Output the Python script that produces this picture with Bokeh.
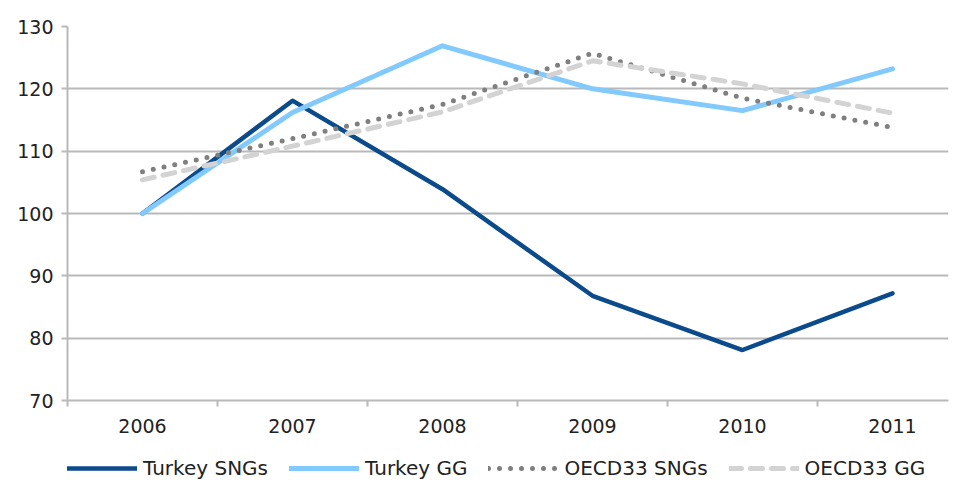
from bokeh.plotting import figure
from bokeh.models import FixedTicker, Legend, LegendItem, Range1d
from bokeh.layouts import column
from bokeh.embed import file_html
from bokeh.resources import INLINE

years = ["2006", "2007", "2008", "2009", "2010", "2011"]
turkey_sngs = [100, 118.1, 103.9, 86.8, 78.1, 87.2]
turkey_gg = [100, 116.2, 126.9, 120.0, 116.5, 123.2]
oecd_sngs = [106.7, 112.0, 117.5, 125.7, 118.5, 113.8]
oecd_gg = [105.4, 110.8, 116.3, 124.5, 120.8, 116.1]
y_ticks = [70, 80, 90, 100, 110, 120, 130]
names = ["Turkey SNGs", "Turkey GG", "OECD33 SNGs", "OECD33 GG"]

xs = list(range(len(years)))
all_series = [turkey_sngs, turkey_gg, oecd_sngs, oecd_gg]
FONT = "DejaVu Sans"
GRID = "#b9b9b9"
TXT = "#222222"

styles = [
    dict(line_color="#0b4a8b", line_width=4.5, line_join="round", line_cap="round"),
    dict(line_color="#82c9fd", line_width=5, line_join="round", line_cap="round"),
    dict(line_color="#7f7f7f", line_width=5, line_dash="0 11", line_cap="round"),
    dict(line_color="#d3d3d3", line_width=5, line_dash="12 9", line_cap="round"),
]

p = figure(width=956, height=440, output_backend="svg", toolbar_location=None,
           x_range=Range1d(-0.5, -0.5 + 881 / 150), y_range=Range1d(70, 130),
           min_border_left=67, min_border_right=8, min_border_top=26, min_border_bottom=40)
p.outline_line_color = None

for series, st in zip(all_series, styles):
    p.line(xs, series, **st)

# x axis: labels at centres, tick marks at category boundaries
p.xaxis.ticker = FixedTicker(ticks=xs, minor_ticks=[i - 0.5 for i in range(len(years) + 1)])
p.xaxis.major_label_overrides = {i: y for i, y in enumerate(years)}
p.xaxis.major_tick_line_color = None
p.xaxis.minor_tick_line_color = GRID
p.xaxis.minor_tick_line_width = 2
p.xaxis.minor_tick_out = 6
p.xaxis.minor_tick_in = 0
p.xaxis.major_label_standoff = 12

p.yaxis.ticker = FixedTicker(ticks=y_ticks)
p.yaxis.minor_tick_line_color = None
p.yaxis.major_tick_line_color = GRID
p.yaxis.major_tick_line_width = 2
p.yaxis.major_tick_out = 6
p.yaxis.major_tick_in = 0
p.yaxis.major_label_standoff = 8

for ax in (p.xaxis, p.yaxis):
    ax.axis_line_color = GRID
    ax.axis_line_width = 2
    ax.major_label_text_font = FONT
    ax.major_label_text_font_size = "19px"
    ax.major_label_text_color = TXT

p.xgrid.grid_line_color = None
p.ygrid.grid_line_color = GRID
p.ygrid.grid_line_width = 2
p.ygrid.ticker = FixedTicker(ticks=y_ticks)

# legend strip below the chart (its frame is aligned with the chart's frame)
lg = figure(width=956, height=40, output_backend="svg", toolbar_location=None,
            x_range=Range1d(-0.5, 5.5), y_range=Range1d(0, 1),
            min_border_left=0, min_border_right=0, min_border_top=0, min_border_bottom=0)
lg.axis.visible = False
lg.grid.visible = False
lg.outline_line_color = None
items = []
for name, series, st in zip(names, all_series, styles):
    r = lg.line(xs, series, **st)  # out of this strip's view; only its legend swatch shows
    items.append(LegendItem(label=name, renderers=[r]))

legend = Legend(items=items, orientation="horizontal", location=(0, 0))
legend.glyph_width = 70
legend.glyph_height = 20
legend.label_text_font = FONT
legend.label_text_font_size = "20px"
legend.label_text_color = TXT
legend.label_standoff = 6
legend.spacing = 21
legend.padding = 0
legend.margin = 0
legend.border_line_color = None
legend.background_fill_alpha = 0
legend.label_height = 20
lg.add_layout(legend, "center")

open("out.html", "w").write(file_html(column(p, lg, spacing=0), INLINE))
